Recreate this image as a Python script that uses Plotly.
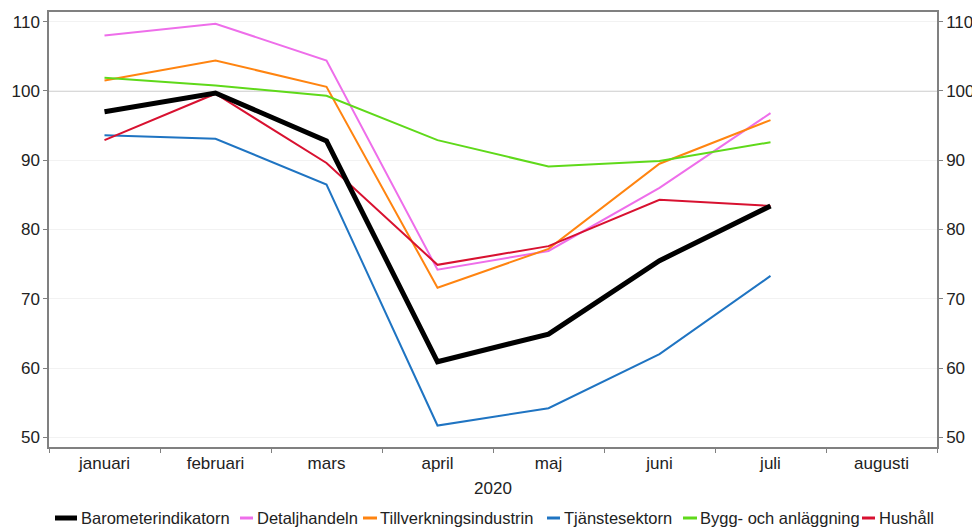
import plotly.graph_objects as go

months = ["januari", "februari", "mars", "april", "maj", "juni", "juli", "augusti"]
year_label = "2020"

barometer = [97.0, 99.7, 92.8, 60.9, 64.9, 75.5, 83.4]
detaljhandeln = [108.0, 109.7, 104.4, 74.2, 76.9, 86.0, 96.8]
tillverkning = [101.5, 104.4, 100.6, 71.6, 77.2, 89.5, 95.8]
tjanster = [93.6, 93.1, 86.5, 51.7, 54.2, 62.0, 73.3]
bygg = [101.9, 100.8, 99.3, 92.9, 89.1, 89.9, 92.6]
hushall = [92.9, 99.6, 89.6, 74.9, 77.6, 84.3, 83.4]

y_ticks = [50, 60, 70, 80, 90, 100, 110]
reference_level = 100

series = [
    ("Barometerindikatorn", barometer, "#000000", 5),
    ("Detaljhandeln", detaljhandeln, "#ee6eea", 2),
    ("Tillverkningsindustrin", tillverkning, "#ff8410", 2),
    ("Tjänstesektorn", tjanster, "#1f74c2", 2),
    ("Bygg- och anläggning", bygg, "#5fd91a", 2),
    ("Hushåll", hushall, "#d81130", 2),
]

FONT = "Liberation Sans, Arial, sans-serif"
TXT = "#222222"
AX = "#808080"

# figure geometry (page body adds an 8px offset)
W, H = 972, 521
ML, MR, MT, MB = 41, 43, 4, 82
PW, PH = W - ML - MR, H - MT - MB
OFF = 8


def px_to_paper_x(sx):
    return (sx - OFF - ML) / PW


def px_to_paper_y(sy):
    return (H - MB - (sy - OFF)) / PH


fig = go.Figure()
# draw thin lines first, black on top
for name, vals, color, w in series[1:] + series[:1]:
    fig.add_trace(go.Scatter(
        x=months[:len(vals)], y=vals, name=name, mode="lines",
        line=dict(color=color, width=w), showlegend=False,
    ))

# transparent copy on the right-hand axis so that axis is drawn
fig.add_trace(go.Scatter(
    x=months[:len(barometer)], y=barometer, yaxis="y2", mode="lines",
    line=dict(color="rgba(0,0,0,0)", width=0), showlegend=False, hoverinfo="skip",
))

fig.add_shape(type="line", xref="paper", x0=0, x1=1, yref="y",
              y0=reference_level, y1=reference_level,
              line=dict(color="#b4b4b4", width=1.2), layer="below")

# legend row drawn below the plot (symbol start, symbol end, text start in screen px)
legend_slots = [(55, 77, 79), (240, 253, 255), (363, 377, 378),
                (547, 560, 562), (683, 697, 698), (862, 875, 877)]
legend_y = px_to_paper_y(518)
for (name, _, color, w), (s0, s1, t0) in zip(series, legend_slots):
    fig.add_shape(type="line", xref="paper", yref="paper",
                  x0=px_to_paper_x(s0), x1=px_to_paper_x(s1), y0=legend_y, y1=legend_y,
                  line=dict(color=color, width=5 if w > 3 else 3))
    fig.add_annotation(xref="paper", yref="paper", x=px_to_paper_x(t0), y=legend_y,
                       text=name, showarrow=False, xanchor="left", yanchor="middle",
                       font=dict(family=FONT, size=16.5, color=TXT))

yrange = [48.6, 111.4]
axis_common = dict(
    range=yrange, tickvals=y_ticks, ticks="outside", ticklen=4,
    tickcolor=AX, linecolor=AX, linewidth=1.5, showline=True,
    tickfont=dict(family=FONT, size=17, color=TXT), automargin=False,
)

fig.update_layout(
    width=W, height=H,
    margin=dict(l=ML, r=MR, t=MT, b=MB, autoexpand=False),
    paper_bgcolor="white", plot_bgcolor="white",
    font=dict(family=FONT, size=17, color=TXT),
    showlegend=False,
    xaxis=dict(
        type="category", categoryarray=months, categoryorder="array",
        range=[-0.5, len(months) - 0.5],
        tickson="boundaries", ticks="outside", ticklen=4, tickcolor=AX,
        showline=True, linecolor=AX, linewidth=1.5, mirror=True,
        showgrid=False, tickfont=dict(family=FONT, size=17, color=TXT),
        automargin=False,
        title=dict(text=year_label, standoff=10, font=dict(family=FONT, size=17, color=TXT)),
    ),
    yaxis=dict(**axis_common, side="left", showgrid=True, gridcolor="#f2f2f2", gridwidth=1,
               zeroline=False),
    yaxis2=dict(**axis_common, side="right", overlaying="y", showgrid=False, zeroline=False),
)

fig.write_html("out.html")
